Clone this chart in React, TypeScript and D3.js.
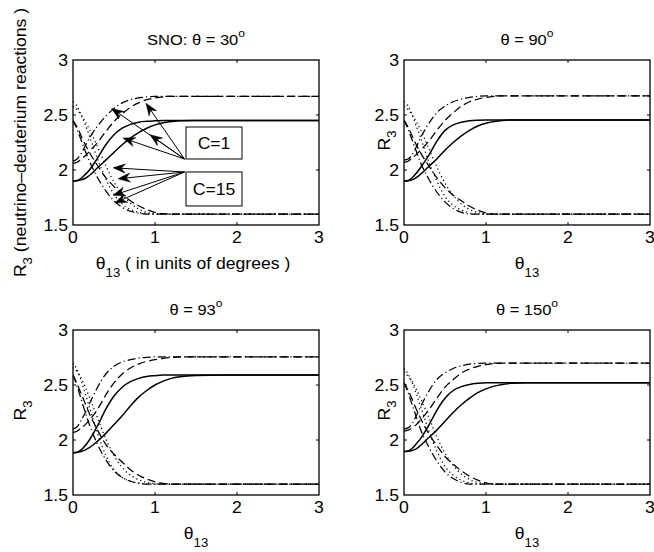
import React from "react";
import * as d3 from "d3";

// theta13 sample points (degrees)
const XS = [0, 0.05, 0.1, 0.15, 0.2, 0.3, 0.4, 0.5, 0.6, 0.7, 0.8, 0.9, 1.0, 1.1, 1.2, 1.3, 1.5, 2, 3];

const X_TICKS = [0, 1, 2, 3];
const Y_TICKS = [1.5, 2, 2.5, 3];
const X_TICK_LABELS = ["0", "1", "2", "3"];
const Y_TICK_LABELS = ["1.5", "2", "2.5", "3"];
const TITLES = ["SNO: θ = 30", "θ = 90", "θ = 93", "θ = 150"];

// Panel 1: SNO theta = 30
const p1SolidA = [1.9, 1.905, 1.925, 1.96, 2.0, 2.11, 2.23, 2.32, 2.38, 2.415, 2.435, 2.443, 2.447, 2.45, 2.45, 2.45, 2.45, 2.45, 2.45];
const p1SolidB = [1.9, 1.902, 1.91, 1.925, 1.95, 2.02, 2.09, 2.16, 2.23, 2.29, 2.34, 2.38, 2.41, 2.43, 2.44, 2.447, 2.45, 2.45, 2.45];
const p1DashDotUp = [2.08, 2.1, 2.15, 2.22, 2.29, 2.4, 2.49, 2.56, 2.61, 2.64, 2.655, 2.665, 2.67, 2.67, 2.67, 2.67, 2.67, 2.67, 2.67];
const p1DashedUp = [2.06, 2.07, 2.1, 2.13, 2.17, 2.25, 2.35, 2.44, 2.51, 2.57, 2.61, 2.64, 2.655, 2.665, 2.67, 2.67, 2.67, 2.67, 2.67];
const p1DottedA = [2.62, 2.58, 2.5, 2.41, 2.31, 2.1, 1.92, 1.78, 1.69, 1.64, 1.615, 1.603, 1.6, 1.6, 1.6, 1.6, 1.6, 1.6, 1.6];
const p1DottedB = [2.58, 2.55, 2.5, 2.44, 2.37, 2.21, 2.04, 1.89, 1.78, 1.7, 1.645, 1.615, 1.603, 1.6, 1.6, 1.6, 1.6, 1.6, 1.6];
const p1DashedDown = [2.45, 2.39, 2.31, 2.23, 2.16, 2.04, 1.93, 1.85, 1.78, 1.72, 1.675, 1.64, 1.615, 1.603, 1.6, 1.6, 1.6, 1.6, 1.6];
const p1DashDotDown = [2.45, 2.37, 2.27, 2.17, 2.08, 1.93, 1.81, 1.72, 1.66, 1.625, 1.607, 1.6, 1.6, 1.6, 1.6, 1.6, 1.6, 1.6, 1.6];

// Panel 2: theta = 90
const p2SolidA = [1.9, 1.905, 1.93, 1.97, 2.02, 2.13, 2.26, 2.36, 2.41, 2.435, 2.448, 2.453, 2.455, 2.455, 2.455, 2.455, 2.455, 2.455, 2.455];
const p2SolidB = [1.9, 1.902, 1.91, 1.93, 1.96, 2.03, 2.1, 2.18, 2.25, 2.31, 2.36, 2.4, 2.425, 2.44, 2.45, 2.455, 2.455, 2.455, 2.455];
const p2DashDotUp = [2.09, 2.1, 2.14, 2.21, 2.29, 2.42, 2.52, 2.58, 2.62, 2.645, 2.66, 2.67, 2.675, 2.675, 2.675, 2.675, 2.675, 2.675, 2.675];
const p2DashedUp = [2.07, 2.08, 2.11, 2.14, 2.18, 2.26, 2.36, 2.45, 2.52, 2.58, 2.62, 2.645, 2.66, 2.67, 2.675, 2.675, 2.675, 2.675, 2.675];
const p2DottedA = [2.62, 2.58, 2.5, 2.4, 2.3, 2.08, 1.9, 1.76, 1.68, 1.635, 1.61, 1.6, 1.6, 1.6, 1.6, 1.6, 1.6, 1.6, 1.6];
const p2DottedB = [2.58, 2.55, 2.5, 2.44, 2.37, 2.2, 2.03, 1.88, 1.77, 1.69, 1.64, 1.615, 1.6, 1.6, 1.6, 1.6, 1.6, 1.6, 1.6];
const p2DashedDown = [2.455, 2.39, 2.31, 2.23, 2.16, 2.04, 1.93, 1.84, 1.77, 1.72, 1.67, 1.635, 1.61, 1.6, 1.6, 1.6, 1.6, 1.6, 1.6];
const p2DashDotDown = [2.455, 2.37, 2.27, 2.17, 2.07, 1.92, 1.8, 1.71, 1.65, 1.615, 1.6, 1.6, 1.6, 1.6, 1.6, 1.6, 1.6, 1.6, 1.6];

// Panel 3: theta = 93
const p3SolidA = [1.885, 1.89, 1.91, 1.95, 2.0, 2.13, 2.28, 2.4, 2.48, 2.53, 2.56, 2.578, 2.585, 2.59, 2.59, 2.59, 2.59, 2.59, 2.59];
const p3SolidB = [1.885, 1.887, 1.895, 1.91, 1.93, 1.99, 2.06, 2.14, 2.22, 2.31, 2.39, 2.45, 2.5, 2.535, 2.56, 2.575, 2.587, 2.59, 2.59];
const p3DashDotUp = [2.1, 2.12, 2.18, 2.25, 2.33, 2.48, 2.6, 2.67, 2.71, 2.73, 2.745, 2.752, 2.755, 2.755, 2.755, 2.755, 2.755, 2.755, 2.755];
const p3DashedUp = [2.07, 2.08, 2.11, 2.14, 2.18, 2.28, 2.41, 2.52, 2.6, 2.655, 2.69, 2.715, 2.73, 2.742, 2.75, 2.755, 2.755, 2.755, 2.755];
const p3DottedA = [2.7, 2.64, 2.54, 2.42, 2.3, 2.06, 1.86, 1.73, 1.66, 1.625, 1.607, 1.6, 1.6, 1.6, 1.6, 1.6, 1.6, 1.6, 1.6];
const p3DottedB = [2.66, 2.62, 2.56, 2.48, 2.39, 2.2, 2.01, 1.86, 1.75, 1.68, 1.64, 1.615, 1.603, 1.6, 1.6, 1.6, 1.6, 1.6, 1.6];
const p3DashedDown = [2.59, 2.51, 2.42, 2.33, 2.24, 2.09, 1.96, 1.87, 1.8, 1.73, 1.68, 1.645, 1.62, 1.605, 1.6, 1.6, 1.6, 1.6, 1.6];
const p3DashDotDown = [2.59, 2.49, 2.37, 2.25, 2.14, 1.96, 1.82, 1.72, 1.66, 1.625, 1.607, 1.6, 1.6, 1.6, 1.6, 1.6, 1.6, 1.6, 1.6];

// Panel 4: theta = 150
const p4SolidA = [1.895, 1.9, 1.925, 1.965, 2.01, 2.13, 2.27, 2.38, 2.45, 2.485, 2.505, 2.515, 2.52, 2.52, 2.52, 2.52, 2.52, 2.52, 2.52];
const p4SolidB = [1.895, 1.897, 1.905, 1.92, 1.95, 2.02, 2.09, 2.17, 2.25, 2.32, 2.38, 2.43, 2.465, 2.49, 2.505, 2.515, 2.52, 2.52, 2.52];
const p4DashDotUp = [2.1, 2.11, 2.15, 2.22, 2.3, 2.44, 2.55, 2.61, 2.65, 2.675, 2.69, 2.697, 2.7, 2.7, 2.7, 2.7, 2.7, 2.7, 2.7];
const p4DashedUp = [2.08, 2.09, 2.11, 2.14, 2.18, 2.27, 2.38, 2.48, 2.55, 2.61, 2.645, 2.67, 2.685, 2.695, 2.7, 2.7, 2.7, 2.7, 2.7];
const p4DottedA = [2.65, 2.6, 2.52, 2.42, 2.31, 2.09, 1.9, 1.76, 1.68, 1.635, 1.61, 1.6, 1.6, 1.6, 1.6, 1.6, 1.6, 1.6, 1.6];
const p4DottedB = [2.62, 2.58, 2.53, 2.46, 2.38, 2.21, 2.03, 1.88, 1.77, 1.69, 1.64, 1.615, 1.602, 1.6, 1.6, 1.6, 1.6, 1.6, 1.6];
const p4DashedDown = [2.52, 2.45, 2.37, 2.28, 2.2, 2.06, 1.95, 1.85, 1.78, 1.72, 1.67, 1.635, 1.61, 1.6, 1.6, 1.6, 1.6, 1.6, 1.6];
const p4DashDotDown = [2.52, 2.43, 2.32, 2.21, 2.1, 1.94, 1.81, 1.71, 1.65, 1.615, 1.6, 1.6, 1.6, 1.6, 1.6, 1.6, 1.6, 1.6, 1.6];

// Annotation (panel 1) in data units
const C1_LABEL = "C=1";
const C15_LABEL = "C=15";
const C1_BOX = [1.378, 2.1, 2.061, 2.391];
const C15_BOX = [1.378, 1.673, 2.061, 1.982];
const C1_FROM = [1.36, 2.1];
const C15_FROM = [1.36, 1.982];
const C1_TARGETS = [[0.47, 2.56], [0.89, 2.606], [0.61, 2.29], [0.94, 2.32]];
const C15_TARGETS = [[0.49, 2.02], [0.55, 1.92], [0.49, 1.77], [0.51, 1.7]];

const DASH: Record<string, string | undefined> = {
  solid: undefined,
  dashed: "8,4",
  dotted: "1.2,3",
  dashdot: "8,3,1.2,3",
};

type Series = { style: string; values: number[] };
const mk = (a: number[][]): Series[] => [
  { style: "dotted", values: a[4] },
  { style: "dotted", values: a[5] },
  { style: "dashed", values: a[6] },
  { style: "dashdot", values: a[7] },
  { style: "dashed", values: a[3] },
  { style: "dashdot", values: a[2] },
  { style: "solid", values: a[0] },
  { style: "solid", values: a[1] },
];

const PANEL_SERIES: Series[][] = [
  mk([p1SolidA, p1SolidB, p1DashDotUp, p1DashedUp, p1DottedA, p1DottedB, p1DashedDown, p1DashDotDown]),
  mk([p2SolidA, p2SolidB, p2DashDotUp, p2DashedUp, p2DottedA, p2DottedB, p2DashedDown, p2DashDotDown]),
  mk([p3SolidA, p3SolidB, p3DashDotUp, p3DashedUp, p3DottedA, p3DottedB, p3DashedDown, p3DashDotDown]),
  mk([p4SolidA, p4SolidB, p4DashDotUp, p4DashedUp, p4DottedA, p4DottedB, p4DashedDown, p4DashDotDown]),
];

const W = 654;
const H = 552;
const PW = 246;
const PH = 165;
const ORIGINS = [
  [73, 60],
  [404, 60],
  [73, 330],
  [404, 330],
];
const FONT = "'Liberation Sans', Arial, Helvetica, sans-serif";
const SX = 1.1;

function T({ x, y, rot = 0, anchor = "middle", size = 16, children }: any) {
  return (
    <text
      transform={`translate(${x},${y}) rotate(${rot}) scale(${SX},1)`}
      textAnchor={anchor}
      fontSize={size}
      fontFamily={FONT}
      fill="#000"
    >
      {children}
    </text>
  );
}

function Arrow({ from, to, xs, ys }: any) {
  const x1 = xs(from[0]);
  const y1 = ys(from[1]);
  const x2 = xs(to[0]);
  const y2 = ys(to[1]);
  const a = Math.atan2(y2 - y1, x2 - x1);
  const L = 12;
  const Wd = 4.5;
  const N = 8;
  const bx = x2 - L * Math.cos(a);
  const by = y2 - L * Math.sin(a);
  const nx = x2 - N * Math.cos(a);
  const ny = y2 - N * Math.sin(a);
  const px = -Math.sin(a);
  const py = Math.cos(a);
  const pts = [
    [x2, y2],
    [bx + Wd * px, by + Wd * py],
    [nx, ny],
    [bx - Wd * px, by - Wd * py],
  ];
  return (
    <g>
      <line x1={x1} y1={y1} x2={nx} y2={ny} stroke="#000" strokeWidth={1} />
      <polygon points={pts.map((p) => p.join(",")).join(" ")} fill="#000" stroke="#000" strokeWidth={0.6} />
    </g>
  );
}

function Panel({ idx }: { idx: number }) {
  const [x0, y0] = ORIGINS[idx];
  const xs = d3.scaleLinear().domain([0, 3]).range([x0, x0 + PW]);
  const ys = d3.scaleLinear().domain([1.5, 3]).range([y0 + PH, y0]);
  const line = d3
    .line<number>()
    .x((_, i) => xs(XS[i]))
    .y((d) => ys(d))
    .curve(d3.curveMonotoneX);
  const clipId = `clip${idx}`;
  const cx = x0 + PW / 2;
  const cy = y0 + PH / 2;
  return (
    <g>
      <defs>
        <clipPath id={clipId}>
          <rect x={x0} y={y0} width={PW} height={PH} />
        </clipPath>
      </defs>
      <g clipPath={`url(#${clipId})`}>
        {PANEL_SERIES[idx].map((s, i) => (
          <path
            key={i}
            d={line(s.values) || ""}
            fill="none"
            stroke="#000"
            strokeWidth={s.style === "solid" ? 1.5 : 1.25}
            strokeDasharray={DASH[s.style]}
          />
        ))}
      </g>
      {X_TICKS.slice(1, 3).map((t) => (
        <g key={"xt" + t}>
          <line x1={xs(t)} x2={xs(t)} y1={y0 + PH} y2={y0 + PH - 3} stroke="#000" />
          <line x1={xs(t)} x2={xs(t)} y1={y0} y2={y0 + 3} stroke="#000" />
        </g>
      ))}
      {Y_TICKS.slice(1, 3).map((t) => (
        <g key={"yt" + t}>
          <line x1={x0} x2={x0 + 3} y1={ys(t)} y2={ys(t)} stroke="#000" />
          <line x1={x0 + PW} x2={x0 + PW - 3} y1={ys(t)} y2={ys(t)} stroke="#000" />
        </g>
      ))}
      <rect x={x0} y={y0} width={PW} height={PH} fill="none" stroke="#000" strokeWidth={1.3} />
      {X_TICKS.map((t, i) => (
        <T key={"xl" + t} x={xs(t)} y={y0 + PH + 18}>
          {X_TICK_LABELS[i]}
        </T>
      ))}
      {Y_TICKS.map((t, i) => (
        <T key={"yl" + t} x={x0 - 5} y={ys(t) + 5.5} anchor="end">
          {Y_TICK_LABELS[i]}
        </T>
      ))}
      <T x={cx} y={y0 - 15} size={15}>
        {TITLES[idx]}
        <tspan dy={-8} fontSize={11}>
          o
        </tspan>
      </T>
      {idx === 0 ? (
        <T x={cx - 3} y={y0 + PH + 44} size={16}>
          θ
          <tspan dy={8} fontSize={12}>
            13
          </tspan>
          <tspan dy={-8}> ( in units of degrees )</tspan>
        </T>
      ) : (
        <T x={cx} y={y0 + PH + 44} size={16}>
          θ
          <tspan dy={8} fontSize={12}>
            13
          </tspan>
        </T>
      )}
      {idx === 0 ? (
        <T x={26} y={cy} rot={-90} size={16}>
          R
          <tspan dy={6} fontSize={12}>
            3
          </tspan>
          <tspan dy={-6}> (neutrino–deuterium reactions )</tspan>
        </T>
      ) : (
        <T x={idx === 2 ? 26 : 390} y={cy - 2} rot={-90} size={16}>
          R
          <tspan dy={6} fontSize={12}>
            3
          </tspan>
        </T>
      )}
      {idx === 0 && (
        <g>
          {C1_TARGETS.map((t, i) => (
            <Arrow key={"a1" + i} from={C1_FROM} to={t} xs={xs} ys={ys} />
          ))}
          {C15_TARGETS.map((t, i) => (
            <Arrow key={"a15" + i} from={C15_FROM} to={t} xs={xs} ys={ys} />
          ))}
          {[
            [C1_BOX, C1_LABEL],
            [C15_BOX, C15_LABEL],
          ].map(([b, lab]: any, i) => (
            <g key={"box" + i}>
              <rect
                x={xs(b[0])}
                y={ys(b[3])}
                width={xs(b[2]) - xs(b[0])}
                height={ys(b[1]) - ys(b[3])}
                fill="#fff"
                stroke="#000"
                strokeWidth={1}
              />
              <T x={(xs(b[0]) + xs(b[2])) / 2} y={(ys(b[1]) + ys(b[3])) / 2 + 6} size={16}>
                {lab}
              </T>
            </g>
          ))}
        </g>
      )}
    </g>
  );
}

export default function App() {
  return (
    <svg
      width={W}
      height={H}
      viewBox={`0 0 ${W} ${H}`}
      style={{ position: "absolute", left: 0, top: 0, background: "#fff" }}
    >
      <rect x={0} y={0} width={W} height={H} fill="#fff" />
      {[0, 1, 2, 3].map((i) => (
        <Panel key={i} idx={i} />
      ))}
    </svg>
  );
}
